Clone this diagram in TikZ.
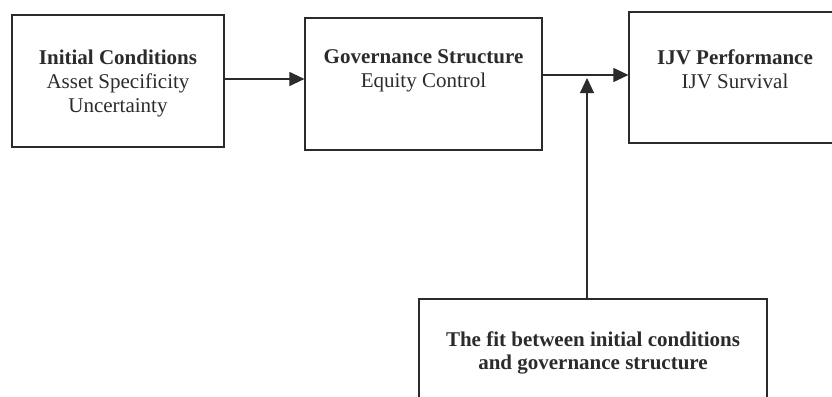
\documentclass[tikz,border=0pt]{standalone}
\usepackage{fontspec}
\setmainfont{Liberation Serif}
\usetikzlibrary{arrows.meta}
\definecolor{ink}{HTML}{2B2B2B}
\tikzset{
  boxshape/.style={draw=ink, line width=1.2pt, inner sep=0pt},
  boxtext/.style={align=center, inner sep=0pt, text=ink, font=\fontsize{21}{24}\selectfont},
  conn/.style={draw=ink, line width=1.1pt, -{Triangle[length=15pt,width=14pt]}}
}
\begin{document}
\begin{tikzpicture}[x=1pt,y=-1pt]
\useasboundingbox (0,0) rectangle (832,396);
\clip (0,0) rectangle (832,396);
% boxes
\node[boxshape, minimum width=212pt, minimum height=132pt] (b1) at (118,81) {};
\node[boxshape, minimum width=237pt, minimum height=132pt] (b2) at (423.5,84) {};
\node[boxshape, minimum width=212pt, minimum height=131pt] (b3) at (735,77.5) {};
\node[boxshape, minimum width=348pt, minimum height=120pt] (b4) at (593,359) {};
% texts
\node[boxtext] (t1) at (118,83) {\textbf{Initial Conditions}\\Asset Specificity\\Uncertainty};
\node[boxtext] (t2) at (423.5,71) {\textbf{Governance Structure}\\Equity Control};
\node[boxtext] (t3) at (735,69) {\textbf{IJV Performance}\\IJV Survival};
\node[boxtext, font=\bfseries\fontsize{21}{23}\selectfont] (t4) at (593,353) {The fit between initial conditions\\and governance structure};
% connectors
\coordinate (y1) at (0,79);
\coordinate (y2) at (0,75);
\coordinate (tip) at (587,78);
\draw[conn] (b1.east |- y1) -- (b2.west |- y1);
\draw[conn] (b2.east |- y2) -- (b3.west |- y2);
\draw[conn] (b4.north -| tip) -- (tip);
\end{tikzpicture}
\end{document}
